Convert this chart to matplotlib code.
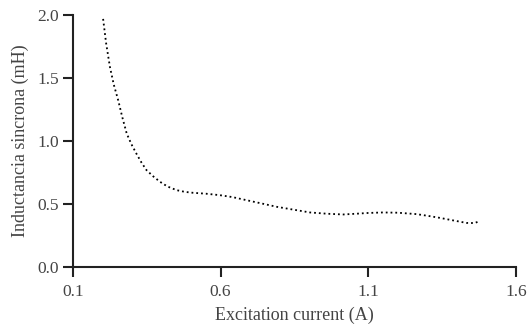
import matplotlib
matplotlib.use("Agg")
import matplotlib.pyplot as plt

# valores
corrente = [0.202, 0.212, 0.225, 0.238, 0.253, 0.267, 0.282, 0.298, 0.315, 0.332, 0.349,
            0.372, 0.395, 0.42, 0.451, 0.48, 0.507, 0.55, 0.598, 0.64, 0.677, 0.73, 0.79,
            0.85, 0.903, 0.96, 1.015, 1.06, 1.1, 1.15, 1.2, 1.263, 1.3, 1.343, 1.39, 1.433,
            1.46, 1.478]
indutancia = [1.97, 1.78, 1.59, 1.45, 1.325, 1.19, 1.06, 0.975, 0.90, 0.83, 0.77,
              0.72, 0.677, 0.64, 0.611, 0.597, 0.59, 0.583, 0.571, 0.556, 0.537, 0.51, 0.479,
              0.455, 0.434, 0.424, 0.418, 0.424, 0.43, 0.434, 0.432, 0.421, 0.408, 0.391, 0.37,
              0.351, 0.35, 0.365]

xticks = [0.1, 0.6, 1.1, 1.6]
yticks = [0.0, 0.5, 1.0, 1.5, 2.0]

plt.rcParams['font.family'] = ['Liberation Serif', 'DejaVu Serif']

fig = plt.figure(figsize=(5.29, 3.29), dpi=100)
ax = fig.add_axes([0.138, 0.188, 0.837, 0.766])

ax.plot(corrente, indutancia, linestyle=':', color='black', linewidth=1.3)

ax.set_xlim(0.1, 1.6)
ax.set_ylim(0.0, 2.0)
ax.set_xticks(xticks)
ax.set_xticklabels(['0.1', '0.6', '1.1', '1.6'])
ax.set_yticks(yticks)
ax.set_yticklabels(['0.0', '0.5', '1.0', '1.5', '2.0'])

for s in ['top', 'right']:
    ax.spines[s].set_visible(False)
for s in ['left', 'bottom']:
    ax.spines[s].set_linewidth(1.5)
    ax.spines[s].set_color('#222222')

ax.tick_params(axis='both', direction='out', length=7, width=1.5, color='#222222',
               labelsize=12.5, labelcolor='#444444', pad=3)
ax.tick_params(axis='x', pad=5)

ax.set_xlabel('Excitation current (A)', fontsize=13, color='#444444', labelpad=5)
ax.set_ylabel('Inductancia sincrona (mH)', fontsize=13, color='#444444', labelpad=6)

fig.savefig('out.png', dpi=100)
